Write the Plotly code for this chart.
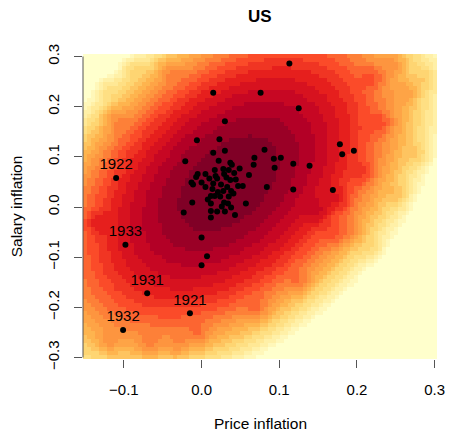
import numpy as np
import plotly.graph_objects as go

# Annual price inflation vs salary inflation, US
price = [
    0.113, 0.015, 0.076, 0.125, 0.030, -0.006, 0.023, 0.081, 0.178, 0.181,
    0.196, -0.021, 0.015, 0.030, 0.068, 0.067, 0.093, 0.102, 0.118, 0.094,
    0.139, 0.118, 0.169, 0.084, 0.057, -0.023, 0.000, -0.012, 0.007, 0.000,
    0.022, 0.037, 0.039, 0.049, 0.061, 0.035, 0.029, 0.017, 0.005, -0.005,
    -0.007, -0.013, -0.011, 0.000, 0.010, 0.015, 0.020, 0.032, 0.037, 0.044,
    0.047, 0.053, 0.038, 0.028, 0.014, 0.012, 0.017, 0.024, 0.035, 0.012,
    0.029, 0.034, 0.020, 0.030, 0.012, 0.038, 0.012, 0.043,
    0.025, 0.028, 0.042, 0.021, 0.005, 0.018, 0.041, 0.026, 0.008, 0.033,
]
salary = [
    0.286, 0.228, 0.228, 0.197, 0.171, 0.133, 0.135, 0.114, 0.125, 0.105,
    0.112, 0.091, 0.108, 0.112, 0.098, 0.084, 0.096, 0.098, 0.086, 0.078,
    0.082, 0.035, 0.034, 0.040, 0.007, -0.011, -0.061, 0.009, -0.098, -0.116,
    0.092, 0.088, 0.084, 0.077, 0.064, 0.074, 0.066, 0.074, 0.066, 0.066,
    0.060, 0.049, 0.045, 0.049, 0.057, 0.047, 0.057, 0.059, 0.054, 0.055,
    0.042, 0.042, 0.032, 0.032, 0.036, 0.022, 0.022, 0.021, 0.021, 0.007,
    0.009, 0.007, -0.009, -0.009, -0.008, -0.001, -0.021, -0.016,
    0.045, 0.076, 0.068, 0.030, 0.040, 0.062, 0.027, 0.001, 0.015, 0.040,
]

# Labelled years
label_years = ["1922", "1933", "1931", "1921", "1932"]
label_price = [-0.110, -0.098, -0.070, -0.015, -0.101]
label_salary = [0.058, -0.075, -0.172, -0.212, -0.245]

# Local modes of the density surface away from the main cloud
tail_price = [0.282, 0.221, 0.291, 0.194, 0.267, -0.114, 0.073, 0.128, 0.171,
              0.175, -0.044, -0.005, -0.030, -0.066, 0.247, 0.209, 0.232, 0.221,
              -0.125, -0.135, -0.120, 0.150, 0.255, -0.090]
tail_salary = [0.104, -0.085, 0.256, -0.052, 0.226, 0.177, -0.207, -0.152, -0.056,
               0.014, 0.275, -0.258, -0.278, -0.278, 0.286, 0.067, 0.167, 0.260,
               0.240, -0.030, -0.270, -0.010, 0.020, 0.280]

x_ticks = [-0.1, 0.0, 0.1, 0.2, 0.3]
y_ticks = [-0.3, -0.2, -0.1, 0.0, 0.1, 0.2, 0.3]

def fmt(v):
    s = f"{abs(v):.1f}"
    return ("\u2212" + s) if v < 0 else s

x_range = [-0.1526, 0.303]
y_range = [-0.303, 0.305]

# ---- log-density surface on a coarse grid ----
nx, ny = 90, 76
dx = (x_range[1] - x_range[0]) / nx
dy = (y_range[1] - y_range[0]) / ny
gx = x_range[0] + (np.arange(nx) + 0.5) * dx
gy = y_range[0] + (np.arange(ny) + 0.5) * dy
GX, GY = np.meshgrid(gx, gy)

px_all = np.array(price + label_price)
py_all = np.array(salary + label_salary)
mu = np.array([px_all.mean(), py_all.mean()])
cov = np.cov(np.vstack([px_all, py_all]))
cov[0, 1] *= 0.85      # mild shrinkage of the covariance term
cov[1, 0] *= 0.85
Sinv = np.linalg.inv(cov)
ddx = GX - mu[0]
ddy = GY - mu[1]
maha = Sinv[0, 0] * ddx ** 2 + 2 * Sinv[0, 1] * ddx * ddy + Sinv[1, 1] * ddy ** 2
logd = -0.5 * maha  # natural log, relative to the peak

# small local modes in the tails (about 7 px wide)
sx, sy = 7 / 795, 7 / 502
bump = np.zeros_like(GX)
for a, b in zip(tail_price, tail_salary):
    bump += np.exp(-0.5 * (((GX - a) / sx) ** 2 + ((GY - b) / sy) ** 2))
logd = logd + np.log1p(2.5 * bump)

span = 13.5          # nats shown between darkest and lightest colour
n_levels = 20
t = np.clip(1 + logd / span, 0, 1)
lev = np.clip(np.floor(t * n_levels), 0, n_levels - 1)

ylorrd = ['#FFFFCC', '#FFEDA0', '#FED976', '#FEB24C', '#FD8D3C',
          '#FC4E2A', '#E31A1C', '#BD0026', '#800026']

def hex2rgb(h):
    return np.array([int(h[i:i + 2], 16) for i in (1, 3, 5)], dtype=float)

base = np.array([hex2rgb(c) for c in ylorrd])
pos = np.linspace(0, 1, len(base))
cols = []
for tt in np.linspace(0, 1, n_levels):
    rgb = [np.interp(tt, pos, base[:, k]) for k in range(3)]
    cols.append("rgb(%d,%d,%d)" % tuple(int(round(v)) for v in rgb))
cscale = []
for i, c in enumerate(cols):
    cscale.append([i / n_levels, c])
    cscale.append([(i + 1) / n_levels, c])

fig = go.Figure()
fig.add_trace(go.Heatmap(
    x=gx, y=gy, z=lev, zmin=0, zmax=n_levels,
    colorscale=cscale, showscale=False, zsmooth=False, hoverinfo="skip"))

font = "Liberation Sans, Arial, sans-serif"
fig.add_trace(go.Scatter(
    x=price, y=salary, mode="markers",
    marker=dict(color="black", size=6), hoverinfo="skip", showlegend=False))
fig.add_trace(go.Scatter(
    x=label_price, y=label_salary, mode="markers+text", text=label_years,
    textposition="top center",
    textfont=dict(family=font, size=15, color="black"),
    marker=dict(color="black", size=6), hoverinfo="skip", showlegend=False))

fig.add_shape(type="line", xref="paper", yref="y", x0=0, x1=0,
              y0=y_ticks[0], y1=y_ticks[-1], line=dict(color="#555", width=1))

fig.update_layout(
    width=456, height=433,
    margin=dict(l=83, r=11, t=54, b=74),
    paper_bgcolor="white", plot_bgcolor="white",
    showlegend=False,
    font=dict(family=font, size=15, color="black"),
    xaxis=dict(range=x_range, tickvals=x_ticks, ticktext=[fmt(v) for v in x_ticks],
               ticks="outside", ticklen=8, tickcolor="#555", tickwidth=1,
               showgrid=False, zeroline=False, showline=False,
               tickfont=dict(size=15), ticklabelstandoff=9),
    yaxis=dict(range=y_range, tickvals=y_ticks, ticktext=[fmt(v) for v in y_ticks],
               ticks="outside", ticklen=8, tickcolor="#555", tickwidth=1,
               showgrid=False, zeroline=False, showline=False,
               tickangle=-90, tickfont=dict(size=15), ticklabelstandoff=9),
    annotations=[
        dict(text="<b>US</b>", xref="paper", yref="paper", x=0.5, y=1.123,
             xanchor="center", yanchor="middle", showarrow=False,
             font=dict(size=17, family=font)),
        dict(text="Price inflation", xref="paper", yref="paper", x=0.5, y=-0.21,
             xanchor="center", yanchor="middle", showarrow=False,
             font=dict(size=15.5, family=font)),
        dict(text="Salary inflation", xref="paper", yref="paper", x=-0.187, y=0.5,
             xanchor="center", yanchor="middle", showarrow=False, textangle=-90,
             font=dict(size=15.5, family=font)),
    ],
)

fig.write_html("out.html")
